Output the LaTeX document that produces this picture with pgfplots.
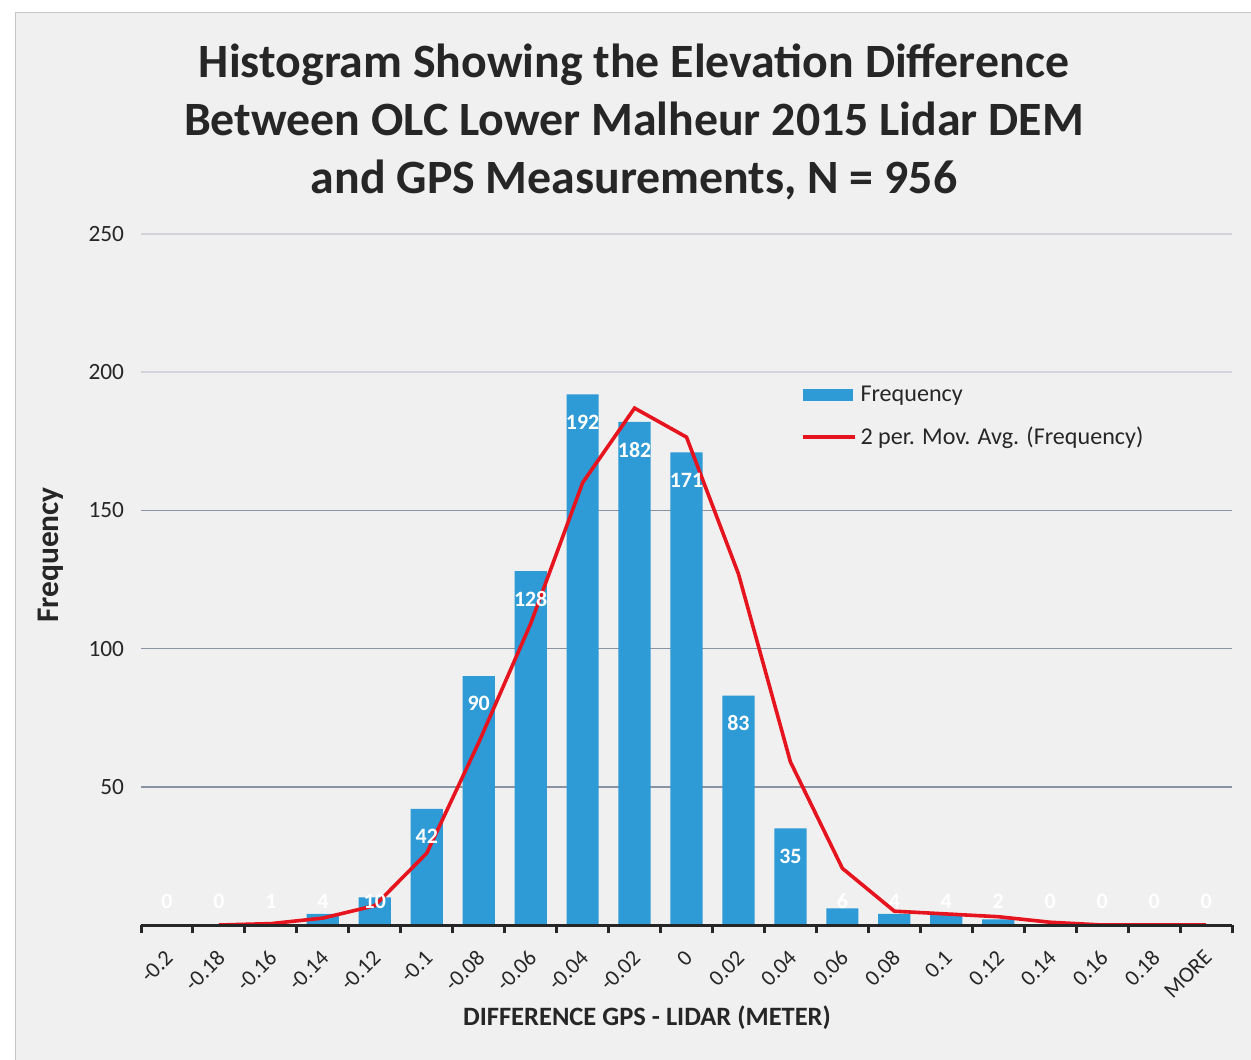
\documentclass[border=0pt]{standalone}
\usepackage{pgfplots}
\pgfplotsset{compat=1.18}
\usepackage{fontspec}
\setmainfont{Carlito}
\definecolor{barblue}{HTML}{2E9AD6}
\definecolor{mavred}{HTML}{E6141E}
\definecolor{bgc}{HTML}{F0F0F0}
\definecolor{gridd}{HTML}{8A93A4}
\definecolor{gridl}{HTML}{D2D4D8}
\begin{document}
\begin{tikzpicture}[x=0.5bp,y=0.5bp]
\path[use as bounding box] (0,0) rectangle (1251,1059);
\fill[white] (0,0) rectangle (1251,1059);
\filldraw[fill=bgc, draw=gray!45] (15,-5) rectangle (1256,1047);
\node[font=\bfseries\fontsize{24}{29}\selectfont, align=center, text=black!85] at (634,937)
  {Histogram Showing the Elevation Difference\\Between OLC Lower Malheur 2015 Lidar DEM\\and GPS Measurements, N = 956};
\node[font=\bfseries\fontsize{13.3}{15}\selectfont, text=black!85] at (647,41) {DIFFERENCE GPS - LIDAR (METER)};
\node[font=\bfseries\fontsize{15.8}{17}\selectfont, text=black!85, rotate=90] at (51,504) {Frequency};
\begin{axis}[
  at={(70.5bp,67bp)}, anchor=south west, scale only axis,
  width=545.5bp, height=345.5bp,
  xmin=-0.5, xmax=20.5, ymin=0, ymax=250,
  axis line style={draw=none},
  /pgf/number format/assume math mode=true,
  xtick={0,...,20},
  xticklabels={-0.2,-0.18,-0.16,-0.14,-0.12,-0.1,-0.08,-0.06,-0.04,-0.02,0,0.02,0.04,0.06,0.08,0.1,0.12,0.14,0.16,0.18,MORE},
  x tick label style={xshift=3.5bp, yshift=-12bp, rotate=45, anchor=east, font=\fontsize{11.2}{12}\selectfont, text=black!85},
  minor xtick={-0.5,0.5,...,20.5},
  xtick pos=left,
  tick align=outside,
  major tick length=0pt,
  minor tick length=4bp,
  minor x tick style={black!85, line width=1.5bp},
  ytick={200,250},
  extra y ticks={50,100,150},
  extra y tick style={major grid style={gridd, line width=0.7bp}},
  ytick style={draw=none},
  ymajorgrids,
  major grid style={gridl, line width=0.7bp},
  y tick label style={font=\fontsize{11.7}{13}\selectfont, text=black!85, xshift=-5bp},
  legend style={at={(0.6045,0.787)}, anchor=north west, draw=none, fill=none,
    font=\fontsize{12.1}{14}\selectfont, row sep=7.5bp, inner sep=0pt, text=black!85},
  legend cell align=left,
  clip=false,
]
\addplot[ybar, bar width=0.62, fill=barblue, draw=none,
  legend image code/.code={\fill[barblue] (0bp,-3bp) rectangle (25bp,3bp);}]
  coordinates {(0,0)(1,0)(2,1)(3,4)(4,10)(5,42)(6,90)(7,128)(8,192)(9,182)(10,171)(11,83)(12,35)(13,6)(14,4)(15,4)(16,2)(17,0)(18,0)(19,0)(20,0)};
\addlegendentry{Frequency}
\addplot[draw=none, mark=none, forget plot, point meta=explicit symbolic,
  nodes near coords, every node near coord/.append style={anchor=center, text=white, font=\bfseries\fontsize{11}{12}\selectfont, inner sep=0pt}]
  coordinates {(0,8.5)[0] (1,8.5)[0] (2,8.5)[1] (3,8.5)[4] (4,8.5)[10] (5,32)[42] (6,80)[90] (7,118)[128] (8,182)[192] (9,172)[182] (10,161)[171] (11,73)[83] (12,25)[35] (13,8.5)[6] (14,8.5)[4] (15,8.5)[4] (16,8.5)[2] (17,8.5)[0] (18,8.5)[0] (19,8.5)[0] (20,8.5)[0]};
\addplot[mavred, line width=1.8bp, mark=none,
  legend image code/.code={\draw[mavred, line width=1.8bp] (0bp,0bp) -- (26bp,0bp);}]
  coordinates {(1,0)(2,0.5)(3,2.5)(4,7)(5,26)(6,66)(7,109)(8,160)(9,187)(10,176.5)(11,127)(12,59)(13,20.5)(14,5)(15,4)(16,3)(17,1)(18,0)(19,0)(20,0)};
\addlegendentry{2 per. Mov. Avg. (Frequency)}
\draw[black!85, line width=1.5bp] (axis cs:-0.5,0) -- (axis cs:20.5,0);
\end{axis}
\end{tikzpicture}
\end{document}
